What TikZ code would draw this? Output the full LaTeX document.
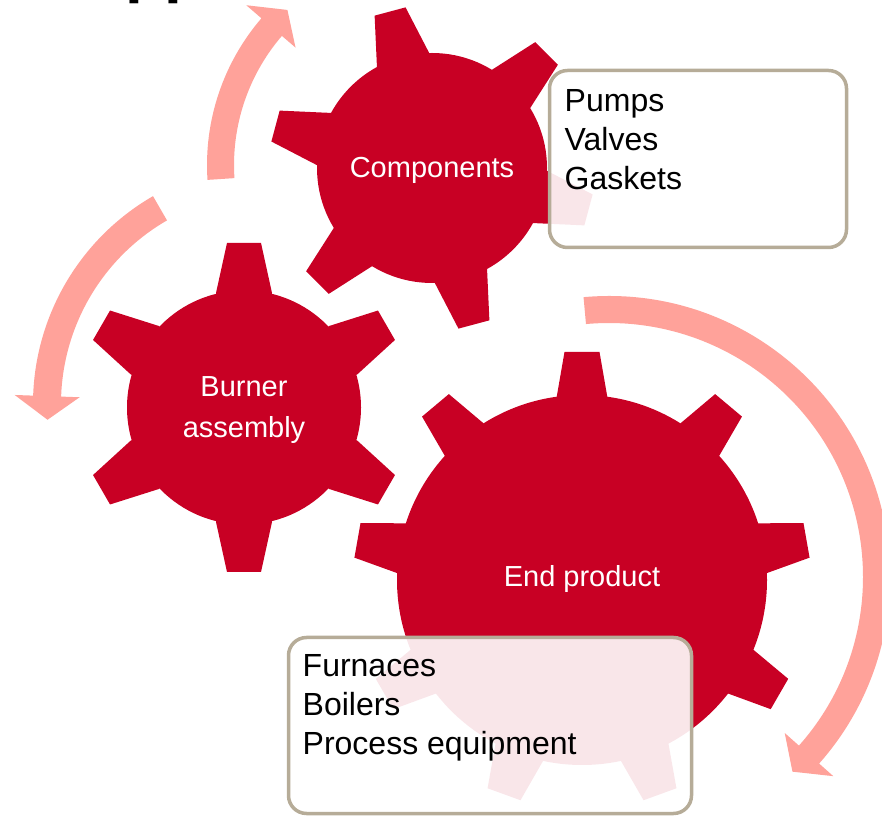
\documentclass[tikz,border=0pt]{standalone}
\usepackage{fontspec}
\setmainfont{Liberation Sans}
\usepackage{xcolor}
\usepackage{tikz}
\usetikzlibrary{positioning}

\definecolor{gearred}{RGB}{200,0,36}
\definecolor{arrowpink}{RGB}{255,162,154}
\definecolor{boxline}{RGB}{182,172,152}

\begin{document}
\begin{tikzpicture}[x=1pt,y=1pt,
          cog/.style={fill=gearred},
          cycarrow/.style={fill=arrowpink},
          geartext/.style={text=white,inner sep=0pt,align=center,font=\fontsize{29}{41.5}\selectfont},
          itembox/.style={draw=boxline,line width=3.5pt,rounded corners=18pt,fill=white,fill opacity=0.9},
          itemtext/.style={inner sep=0pt,align=left,anchor=north west,font=\fontsize{32}{39}\selectfont}]
        \useasboundingbox (0,0) rectangle (882,816);
        \clip (0,0) rectangle (882,816);
        \node[inner sep=0pt,anchor=base west,font=\fontsize{64}{64}\selectfont\bfseries] (title) at (125.5,825.5) {pp};
        % turning arrows
        \begin{scope}[shift={(432,651)}]
          \fill[cycarrow] (183.8:225) arc[start angle=183.8,end angle=139.3,radius=225] -- (139.3:245) -- (133:212)
            -- (139.3:180) -- (139.3:198) arc[start angle=139.3,end angle=183.8,radius=198] -- cycle;
        \end{scope}
        \begin{scope}[shift={(273,412)}]
          \fill[cycarrow] (120:240) arc[start angle=120,end angle=178,radius=240] -- (178:258.5) -- (184:226)
            -- (178:193.5) -- (178:212) arc[start angle=178,end angle=120,radius=212] -- cycle;
        \end{scope}
        \begin{scope}[shift={(609,239)}]
          \fill[cycarrow] (95.2:281) arc[start angle=95.2,end angle=-41.6,radius=281] -- (-41.6:300) -- (-46.7:267.5)
            -- (-41.6:235) -- (-41.6:254) arc[start angle=-41.6,end angle=95.2,radius=254] -- cycle;
        \end{scope}
        % gears
        \coordinate (cc) at (432,648);
        \coordinate (bc) at (244,408.5);
        \coordinate (ec) at (582,236);
        \begin{scope}[shift={(cc)}]
          \fill[cog] (0,0) circle (115);
          \foreach \a in {15,75,...,315}
            \fill[cog,rotate=\a] (0,0) -- (-27,112) -- (-16,162) -- (16,162) -- (27,112) -- cycle;
        \end{scope}
        \begin{scope}[shift={(bc)}]
          \fill[cog] (0,0) circle (117);
          \foreach \a in {0,60,...,300}
            \fill[cog,rotate=\a] (0,0) -- (-28,114.5) -- (-17,164.5) -- (17,164.5) -- (28,114.5) -- cycle;
        \end{scope}
        \begin{scope}[shift={(ec)}]
          \fill[cog] (0,0) circle (185);
          \foreach \a in {0,40,...,320}
            \fill[cog,rotate=\a] (0,0) -- (-25.5,182) -- (-17.5,228) -- (17.5,228) -- (25.5,182) -- cycle;
        \end{scope}
        \node[geartext,anchor=base] (comp) at (432,638.5) {Components};
        \node[geartext,anchor=north] (burner) at (244,440) {Burner\\assembly};
        \node[geartext,anchor=base] (endprod) at (582,229.5) {End product};
        % item lists
        \draw[itembox] (549.5,568.5) rectangle (846.5,745.5);
        \draw[itembox] (288.5,2.5) rectangle (691.5,178.5);
        \node[itemtext] (parts) at (564.5,727) {Pumps\\Valves\\Gaskets};
        \node[itemtext] (uses) at (302.5,161.5) {Furnaces\\Boilers\\Process equipment};
      \end{tikzpicture}
\end{document}
